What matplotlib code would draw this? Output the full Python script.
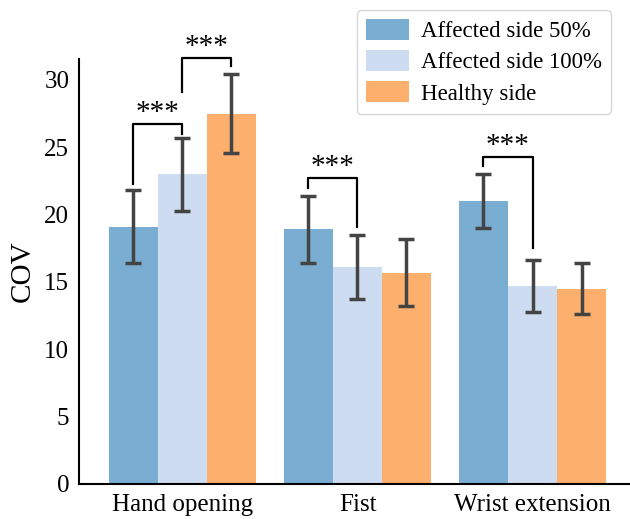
import matplotlib
matplotlib.use('Agg')
import matplotlib.pyplot as plt
import numpy as np

plt.rcParams['font.family'] = ['Liberation Serif', 'DejaVu Serif']

# data
tasks = ['Hand opening', 'Fist', 'Wrist extension']
groups = ['Affected side 50%', 'Affected side 100%', 'Healthy side']
mean_50 = [19.1, 18.9, 21.0]
mean_100 = [23.0, 16.1, 14.7]
mean_healthy = [27.5, 15.7, 14.5]
sd_50 = [2.7, 2.5, 2.0]
sd_100 = [2.7, 2.35, 1.9]
sd_healthy = [2.9, 2.5, 1.9]
colors = ['#79aed2', '#cddcf1', '#fdaf6d']

# significance: (task index, group a, group b, bracket top, left leg end, right leg end)
sig_pairs = [(0, 0, 1, 26.7, 22.3, 26.0),
             (0, 1, 2, 31.6, 29.1, 31.0),
             (1, 0, 1, 22.7, 22.0, 19.1),
             (2, 0, 1, 24.3, 23.6, 17.5)]

fig = plt.figure(figsize=(6.3, 5.19), dpi=100)
ax = fig.add_axes([79/630, 1-484/519, 1-79/630, (484-59)/519])

x = np.arange(len(tasks))
w = 0.28
offsets = [-w, 0, w]
means = [mean_50, mean_100, mean_healthy]
sds = [sd_50, sd_100, sd_healthy]
for i in range(3):
    ax.bar(x + offsets[i], means[i], width=w, color=colors[i], label=groups[i], zorder=2)
    ax.errorbar(x + offsets[i], means[i], yerr=sds[i], fmt='none', ecolor='#444444',
                elinewidth=2.5, capsize=6, capthick=2.5, zorder=3)

for t, a, b, top, la, lb in sig_pairs:
    xa = t + offsets[a]
    xb = t + offsets[b]
    ax.plot([xa, xa, xb, xb], [la, top, top, lb], color='black', lw=1.6,
            clip_on=False, zorder=4)
    ax.text((xa + xb) / 2, top - 0.15, '***', ha='center', va='bottom', fontsize=21,
            clip_on=False)

ax.set_xlim(-0.591, 2.557)
ax.set_ylim(0, 31.55)
ax.set_xticks(x)
ax.set_xticklabels(tasks)
ax.set_yticks([0, 5, 10, 15, 20, 25, 30])
ax.tick_params(length=0, labelsize=18, pad=7)
ax.set_ylabel('COV', fontsize=21, labelpad=6)
for s in ['top', 'right']:
    ax.spines[s].set_visible(False)
for s in ['left', 'bottom']:
    ax.spines[s].set_linewidth(1.5)

ax.legend(loc='upper right', bbox_to_anchor=(611/630, 1-10/519),
          bbox_transform=fig.transFigure, borderaxespad=0, fontsize=16.5, frameon=True,
          edgecolor='#cccccc', fancybox=True, handlelength=1.9,
          handleheight=1.0, borderpad=0.4, labelspacing=0.35, handletextpad=0.5)

fig.savefig('out.png', dpi=100)
